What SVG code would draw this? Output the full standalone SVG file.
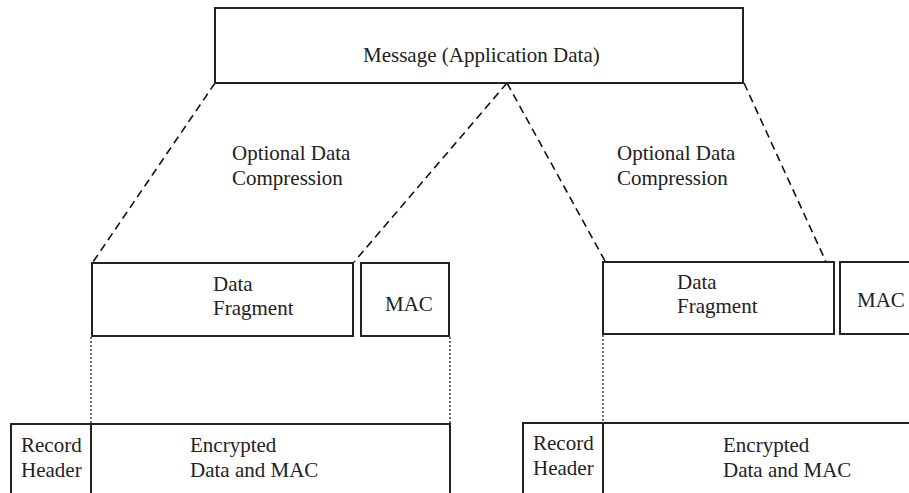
<svg xmlns="http://www.w3.org/2000/svg" width="909" height="493" viewBox="0 0 909 493">
<style>
.box{fill:#fff;stroke:#222;stroke-width:2}
.t{font-family:"Liberation Serif","Times New Roman",serif;font-size:21px;fill:#222}
.dash{stroke:#111;stroke-width:1.6;stroke-dasharray:8 5;fill:none}
.dot{stroke:#222;stroke-width:1.3;stroke-dasharray:2 2;fill:none}
</style>
<rect width="909" height="493" fill="#fff"/>
<g id="connectors">
<line class="dash" x1="215" y1="83" x2="93" y2="262"/>
<line class="dash" x1="507" y1="83" x2="354" y2="262"/>
<line class="dash" x1="507" y1="83" x2="605" y2="261"/>
<line class="dash" x1="744" y1="83" x2="827" y2="264"/>
<line class="dot" x1="91" y1="337" x2="91" y2="424"/>
<line class="dot" x1="450" y1="337" x2="450" y2="424"/>
<line class="dot" x1="603" y1="335" x2="603" y2="423"/>
</g>
<g id="message">
<rect class="box" x="215" y="8" width="528" height="75"/>
<text class="t" x="363" y="62">Message (Application Data)</text>
</g>
<g id="compression-left">
<text class="t" x="232" y="160">Optional Data</text>
<text class="t" x="232" y="185">Compression</text>
</g>
<g id="compression-right">
<text class="t" x="617" y="160">Optional Data</text>
<text class="t" x="617" y="185">Compression</text>
</g>
<g id="fragment-left">
<rect class="box" x="92" y="263" width="261" height="73"/>
<text class="t" x="213" y="291">Data</text>
<text class="t" x="213" y="315">Fragment</text>
</g>
<g id="mac-left">
<rect class="box" x="361" y="263" width="88" height="73"/>
<text class="t" x="385" y="311">MAC</text>
</g>
<g id="fragment-right">
<rect class="box" x="603" y="262" width="231" height="72"/>
<text class="t" x="677" y="289">Data</text>
<text class="t" x="677" y="313">Fragment</text>
</g>
<g id="mac-right">
<rect class="box" x="840" y="262" width="80" height="72"/>
<text class="t" x="857" y="307">MAC</text>
</g>
<g id="header-left">
<rect class="box" x="11" y="424" width="80" height="80"/>
<text class="t" x="21" y="452">Record</text>
<text class="t" x="21" y="477">Header</text>
</g>
<g id="encrypted-left">
<rect class="box" x="91" y="424" width="359" height="80"/>
<text class="t" x="190" y="452">Encrypted</text>
<text class="t" x="190" y="477">Data and MAC</text>
</g>
<g id="header-right">
<rect class="box" x="523" y="423" width="80" height="80"/>
<text class="t" x="533" y="450">Record</text>
<text class="t" x="533" y="475">Header</text>
</g>
<g id="encrypted-right">
<rect class="box" x="603" y="423" width="320" height="80"/>
<text class="t" x="723" y="452">Encrypted</text>
<text class="t" x="723" y="477">Data and MAC</text>
</g>
</svg>
